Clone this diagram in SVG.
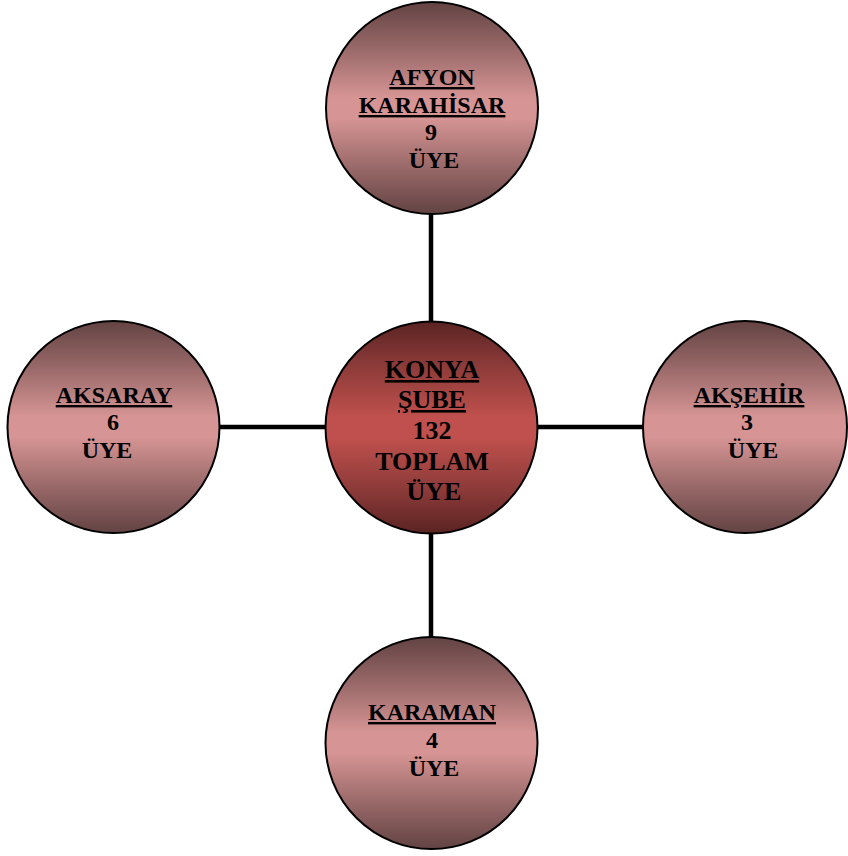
<svg xmlns="http://www.w3.org/2000/svg" width="848" height="856" viewBox="0 0 848 856">
<defs>
<linearGradient id="gOuter" x1="0" y1="0" x2="0" y2="1">
<stop offset="0" stop-color="#634343"/>
<stop offset="0.2" stop-color="#946565"/>
<stop offset="0.45" stop-color="#d69494"/>
<stop offset="0.55" stop-color="#d69494"/>
<stop offset="0.8" stop-color="#946565"/>
<stop offset="1" stop-color="#634343"/>
</linearGradient>
<linearGradient id="gCenter" x1="0" y1="0" x2="0" y2="1">
<stop offset="0" stop-color="#5a2322"/>
<stop offset="0.2" stop-color="#8a3a38"/>
<stop offset="0.45" stop-color="#bf504d"/>
<stop offset="0.55" stop-color="#bf504d"/>
<stop offset="0.8" stop-color="#8a3a38"/>
<stop offset="1" stop-color="#5a2322"/>
</linearGradient>
</defs>
<style>
.node{stroke:#000;stroke-width:2}
.outer{fill:url(#gOuter)}
.center{fill:url(#gCenter)}
.conn{stroke:#000;stroke-width:4.5;fill:none}
text{font-family:"Liberation Serif","Times New Roman",serif;font-weight:bold;fill:#000;text-anchor:middle}
.s24{font-size:24px}
.s26{font-size:26px}
.u{text-decoration:underline}
</style>
<g id="connectors">
<line class="conn" x1="431" y1="212" x2="431" y2="323"/>
<line class="conn" x1="431" y1="532" x2="431" y2="637"/>
<line class="conn" x1="218" y1="427" x2="327" y2="427"/>
<line class="conn" x1="536" y1="427" x2="645" y2="427"/>
</g>
<g id="node-afyon">
<circle class="node outer" cx="432" cy="108" r="106"/>
<text class="s24 u" x="432" y="85">AFYON</text>
<text class="s24 u" x="432" y="113">KARAHİSAR</text>
<text class="s24" x="431" y="140">9</text>
<text class="s24" x="434" y="168">ÜYE</text>
</g>
<g id="node-konya">
<circle class="node center" cx="431.5" cy="427.5" r="106"/>
<text class="s26 u" x="432" y="378">KONYA</text>
<text class="s26 u" x="432" y="408">ŞUBE</text>
<text class="s26" x="432" y="439">132</text>
<text class="s26" x="432" y="470">TOPLAM</text>
<text class="s26" x="434" y="500">ÜYE</text>
</g>
<g id="node-aksaray">
<circle class="node outer" cx="113.5" cy="427" r="106"/>
<text class="s24 u" x="114" y="403">AKSARAY</text>
<text class="s24" x="113" y="430">6</text>
<text class="s24" x="107" y="458">ÜYE</text>
</g>
<g id="node-aksehir">
<ellipse class="node outer" cx="745" cy="427" rx="102" ry="106"/>
<text class="s24 u" x="749" y="403">AKŞEHİR</text>
<text class="s24" x="747" y="430">3</text>
<text class="s24" x="753" y="458">ÜYE</text>
</g>
<g id="node-karaman">
<circle class="node outer" cx="431.5" cy="743" r="106"/>
<text class="s24 u" x="432" y="720">KARAMAN</text>
<text class="s24" x="432" y="748">4</text>
<text class="s24" x="434" y="776">ÜYE</text>
</g>
</svg>
